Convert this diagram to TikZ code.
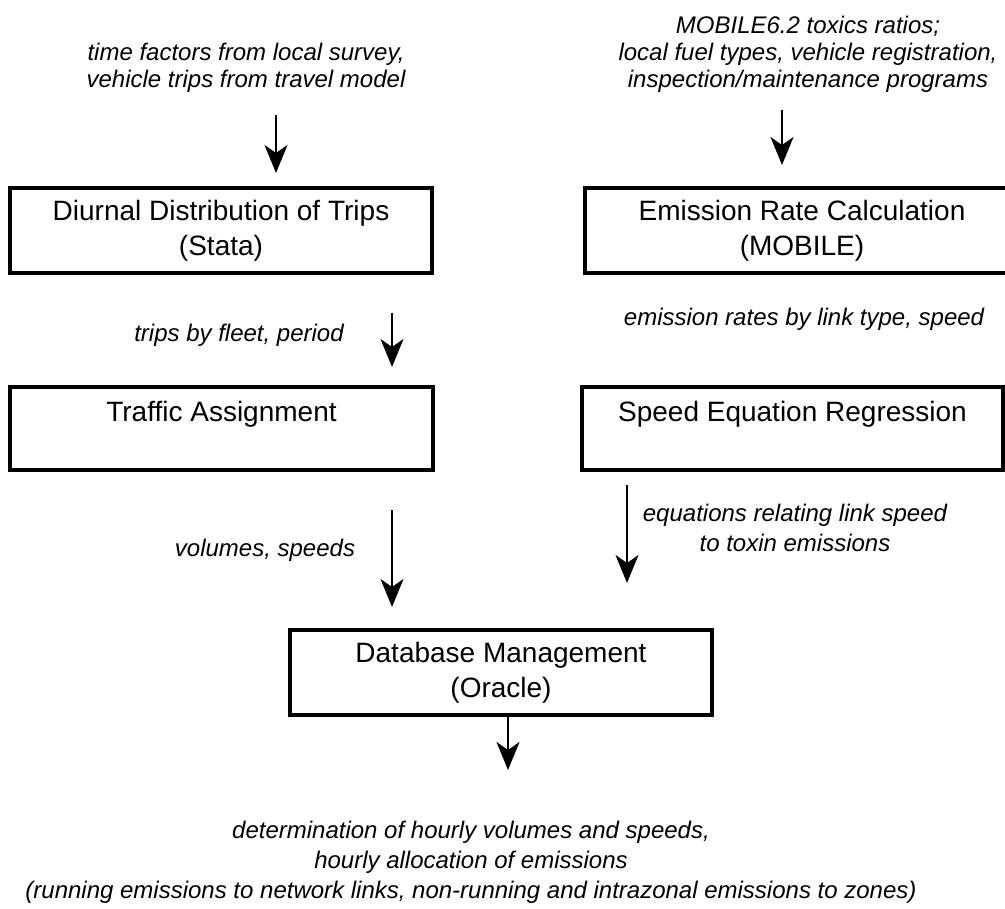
\documentclass[tikz,border=0pt]{standalone}
\usepackage{fontspec}
\setmainfont{Liberation Sans}
\usetikzlibrary{arrows.meta}
\tikzset{
  box/.style={draw, line width=4pt, rectangle, inner sep=0pt, outer sep=0pt, align=center,
    font=\fontsize{28}{35}\selectfont},
  lbl/.style={align=center, inner sep=0pt, font=\fontsize{24}{30}\selectfont\itshape},
  toplbl/.style={lbl, font=\fontsize{24}{27}\selectfont\itshape},
  arr/.style={line width=2pt, -{Stealth[length=28pt,width=23pt,inset=8pt]}},
}
\begin{document}
\begin{tikzpicture}[x=1pt,y=-1pt]
\useasboundingbox (0,0) rectangle (1005,909);
% boxes
\node[box, minimum width=422pt, minimum height=85pt] (diurnal) at (221,230.5) {Diurnal Distribution of Trips\\(Stata)};
\node[box, minimum width=423pt, minimum height=83pt] (traffic) at (221.5,428.5) {Traffic Assignment\\\mbox{}};
\node[box, minimum width=434pt, minimum height=85pt] (emission) at (802,230.5) {Emission Rate Calculation\\(MOBILE)};
\node[box, minimum width=421pt, minimum height=83pt] (speed) at (792.5,428.5) {Speed Equation Regression\\\mbox{}};
\node[box, minimum width=422pt, minimum height=85pt] (db) at (501,672.5) {Database Management\\(Oracle)};
% labels
\node[toplbl] (ltop) at (246,67.5) {time factors from local survey,\\vehicle trips from travel model};
\node[toplbl] (rtop) at (808,54) {MOBILE6.2 toxics ratios;\\local fuel types, vehicle registration,\\inspection/maintenance programs};
\node[lbl] (ltrips) at (239,335) {trips by fleet, period};
\node[lbl] (lrates) at (804,319) {emission rates by link type, speed};
\node[lbl] (lvol) at (265,550) {volumes, speeds};
\node[lbl] (leq) at (795,528) {equations relating link speed\\to toxin emissions};
\node[lbl] (lout) at (471,862) {determination of hourly volumes and speeds,\\hourly allocation of emissions\\(running emissions to network links, non-running and intrazonal emissions to zones)};
% arrow end points
\coordinate (a1s) at (276,115);
\coordinate (a1e) at (276,173);
\coordinate (a2s) at (782,110);
\coordinate (a2e) at (782,165);
\coordinate (a3s) at (392,313);
\coordinate (a3e) at (392,367);
\coordinate (a4s) at (392,510);
\coordinate (a4e) at (392,607);
\coordinate (a5s) at (627,485);
\coordinate (a5e) at (627,583);
\coordinate (a6s) at (508,717);
\coordinate (a6e) at (508,770);
\draw[arr] (a1s) -- (a1e);
\draw[arr] (a2s) -- (a2e);
\draw[arr] (a3s) -- (a3e);
\draw[arr] (a4s) -- (a4e);
\draw[arr] (a5s) -- (a5e);
\draw[arr] (a6s) -- (a6e);
\end{tikzpicture}
\end{document}
